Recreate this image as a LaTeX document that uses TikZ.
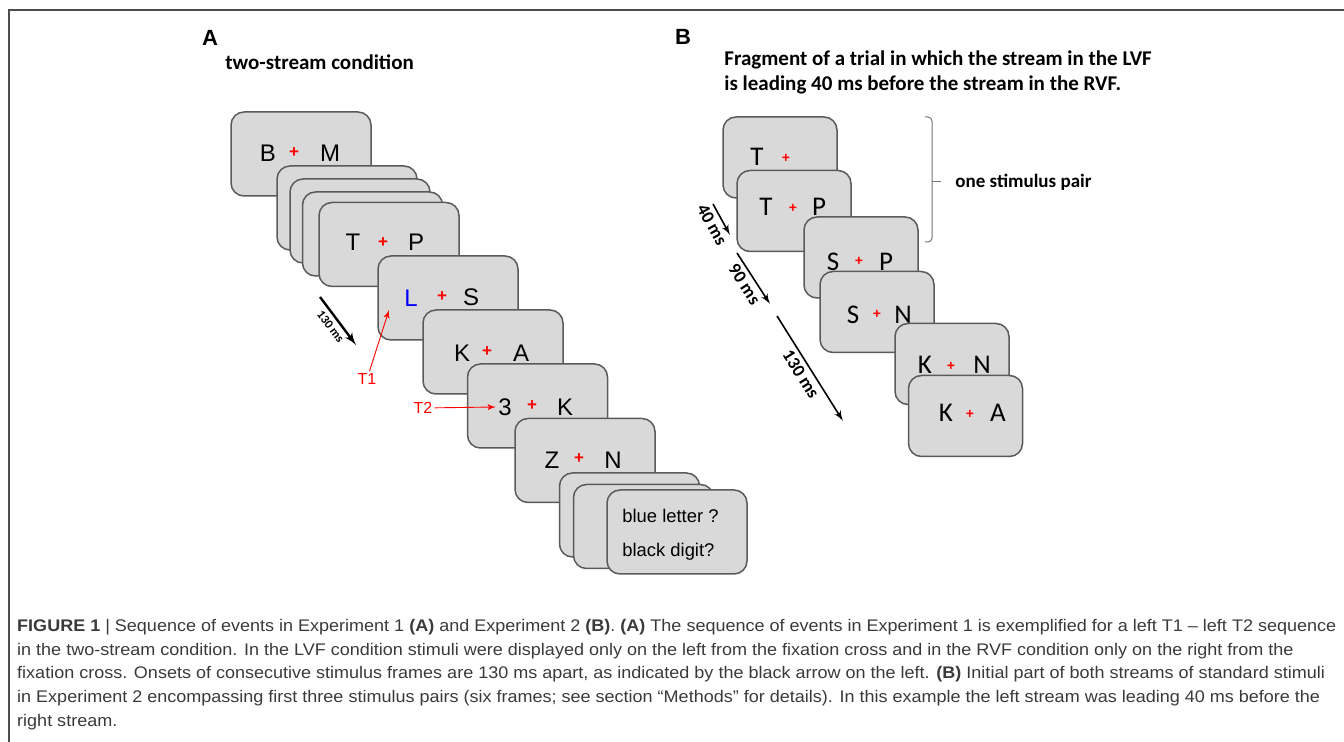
\documentclass[tikz,border=0pt]{standalone}
\usepackage{fontspec}
\setmainfont{Liberation Sans}
\newfontfamily\calibri{Carlito}
\usetikzlibrary{positioning}
\usetikzlibrary{arrows}

\definecolor{framefill}{HTML}{D9D9D9}
\definecolor{frameline}{HTML}{5A5A5A}
\definecolor{captext}{HTML}{3A3A3A}

\begin{document}
\begin{tikzpicture}[>=latex', x=0.5pt, y=-0.5pt]
    \tikzset{frameA/.style={draw=frameline, fill=framefill, line width=0.75pt, rounded corners=6.5pt, minimum width=70pt, minimum height=42pt, inner sep=0pt},
             frameB/.style={frameA, minimum width=57pt, minimum height=40.5pt},
             letA/.style={font=\fontsize{12}{12}\selectfont, inner sep=1pt},
             letB/.style={font=\calibri\fontsize{13.5}{13.5}\selectfont, inner sep=1pt},
             fixA/.style={text=red, font=\bfseries\fontsize{8.5}{8.5}\selectfont, inner sep=0pt},
             fixB/.style={text=red, font=\bfseries\fontsize{7}{7}\selectfont, inner sep=0pt},
             timearrow/.style={->, line width=1pt},
             timelabel/.style={sloped, below, inner sep=2pt, font=\calibri\bfseries\fontsize{9}{9}\selectfont},
             target/.style={->, red, line width=0.45pt},
             panel/.style={font=\bfseries\fontsize{11}{11}\selectfont, inner sep=0pt},
             heading/.style={font=\calibri\bfseries\fontsize{10.5}{12.5}\selectfont, inner sep=0pt, align=left},
             }

    \useasboundingbox (0,0) rectangle (1344,742);
    \draw[black!70, line width=0.6pt] (1344,10) -- (9,10) -- (9,742);

    % panel A
    \node[panel] (pa) at (210,38) {A};
    \node[heading, anchor=base west] (titleA) at (225,70) {two-stream condition};

    \node[frameA] (fa1) at (301,154) {};
    \node[letA] (fa1l) at (268,153) {B};
    \node[fixA] (fa1x) at (294,153) {+};
    \node[letA] (fa1r) at (330,153) {M};
    \node[frameA] (fa2) at (347,208) {};
    \node[frameA] (fa3) at (360,221) {};
    \node[frameA] (fa4) at (372.5,234) {};
    \node[frameA] (fa5) at (389,244.5) {};
    \node[letA] (fa5l) at (353,242) {T};
    \node[fixA] (fa5x) at (383,243) {+};
    \node[letA] (fa5r) at (416,242) {P};
    \node[frameA] (fa6) at (448,298) {};
    \node[letA, text=blue] (fa6l) at (411,298) {L};
    \node[fixA] (fa6x) at (442,297) {+};
    \node[letA] (fa6r) at (471,297) {S};
    \node[frameA] (fa7) at (493,352) {};
    \node[letA] (fa7l) at (462,353) {K};
    \node[fixA] (fa7x) at (487,352) {+};
    \node[letA] (fa7r) at (521,353) {A};
    \node[frameA] (fa8) at (537.5,406) {};
    \node[letA] (fa8l) at (505,407) {3};
    \node[fixA] (fa8x) at (532,406) {+};
    \node[letA] (fa8r) at (565,407) {K};
    \node[frameA] (fa9) at (585,460.5) {};
    \node[letA] (fa9l) at (552,460) {Z};
    \node[fixA] (fa9x) at (579,459) {+};
    \node[letA] (fa9r) at (613,460) {N};
    \node[frameA] (fa10) at (629.5,515) {};
    \node[frameA] (fa11) at (643.5,526.5) {};
    \node[frameA] (fa12) at (677,532) {};
    \node[anchor=base west, inner sep=0pt, font=\fontsize{9.2}{9.2}\selectfont] (q1) at (622,523) {blue letter ?};
    \node[anchor=base west, inner sep=0pt, font=\fontsize{9.2}{9.2}\selectfont] (q2) at (622,557) {black digit?};

    \coordinate (ta1) at (320,297);
    \coordinate (ta2) at (356,345);
    \draw[timearrow, line width=1.2pt] (ta1) -- node[timelabel, font=\calibri\bfseries\fontsize{6.2}{6.2}\selectfont] {130 ms} (ta2);

    \node[red, inner sep=1pt, font=\fontsize{8}{8}\selectfont] (t1) at (367,379) {T1};
    \coordinate (t1tip) at (389,310);
    \draw[target] (t1) -- (t1tip);
    \node[red, inner sep=1pt, font=\fontsize{8}{8}\selectfont] (t2) at (423,408) {T2};
    \draw[target] (t2) -- (fa8l.west);

    % panel B
    \node[panel] (pb) at (683,37) {B};
    \node[heading, anchor=north west] (titleB) at (724,50) {Fragment of a trial in which the stream in the LVF\\is leading 40 ms before the stream in the RVF.};

    \node[frameB] (fb1) at (780,157.5) {};
    \node[letB] (fb1l) at (757,157) {T};
    \node[fixB] (fb1x) at (786,158) {+};
    \node[frameB] (fb2) at (794,211) {};
    \node[letB] (fb2l) at (766,207) {T};
    \node[fixB] (fb2x) at (793,208) {+};
    \node[letB] (fb2r) at (819,207) {P};
    \node[frameB] (fb3) at (861,257.5) {};
    \node[letB] (fb3l) at (833,262) {S};
    \node[fixB] (fb3x) at (859,261) {+};
    \node[letB] (fb3r) at (886,262) {P};
    \node[frameB] (fb4) at (877,312) {};
    \node[letB] (fb4l) at (853,315) {S};
    \node[fixB] (fb4x) at (877,314) {+};
    \node[letB] (fb4r) at (903,315) {N};
    \node[frameB] (fb5) at (952,364) {};
    \node[letB] (fb5l) at (925,365) {K};
    \node[fixB] (fb5x) at (951,366) {+};
    \node[letB] (fb5r) at (982,365) {N};
    \node[frameB] (fb6) at (965.5,416) {};
    \node[letB] (fb6l) at (946,413) {K};
    \node[fixB] (fb6x) at (970,414) {+};
    \node[letB] (fb6r) at (998,413) {A};

    \draw[black!55, line width=0.5pt, rounded corners=2pt] (925,117) -- (932,117) -- (932,242) -- (925,242);
    \coordinate (brace) at (941,182);
    \draw[black!55, line width=0.5pt] (932,182) -- (brace);
    \node[anchor=west, inner sep=0pt, font=\calibri\bfseries\fontsize{9.5}{9.5}\selectfont, right=7pt of brace] (pair) {one stimulus pair};

    \coordinate (tb1) at (713,204);
    \coordinate (tb2) at (730,235);
    \coordinate (tb3) at (737,253);
    \coordinate (tb4) at (770,304);
    \coordinate (tb5) at (777,316);
    \coordinate (tb6) at (843,421);
    \draw[timearrow, line width=0.8pt] (tb1) -- node[timelabel] {40 ms} (tb2);
    \draw[timearrow, line width=0.8pt] (tb3) -- node[timelabel] {90 ms} (tb4);
    \draw[timearrow, line width=0.8pt] (tb5) -- node[timelabel] {130 ms} (tb6);

    % caption
    \node[anchor=north west, align=left, inner sep=0pt, text=captext, xscale=1.072, transform shape, font=\fontsize{8.4}{11.85}\selectfont] (caption) at (16.8,619)
        {\textbf{FIGURE 1} | Sequence of events in Experiment 1 \textbf{(A)} and Experiment 2 \textbf{(B)}. \textbf{(A)} The sequence of events in Experiment 1 is exemplified for a left T1 -- left T2 sequence\\
         in the two-stream condition. In the LVF condition stimuli were displayed only on the left from the fixation cross and in the RVF condition only on the right from the\\
         fixation cross. Onsets of consecutive stimulus frames are 130 ms apart, as indicated by the black arrow on the left. \textbf{(B)} Initial part of both streams of standard stimuli\\
         in Experiment 2 encompassing first three stimulus pairs (six frames; see section “Methods” for details). In this example the left stream was leading 40 ms before the\\
         right stream.};
\end{tikzpicture}
\end{document}
